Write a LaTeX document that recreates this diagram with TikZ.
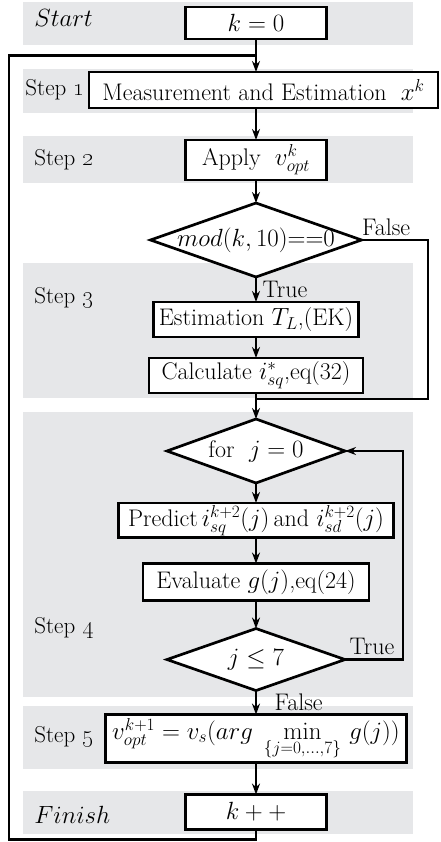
\documentclass[tikz,border=0pt]{standalone}
\usepackage{tikz}
\usetikzlibrary{positioning,shapes,arrows.meta,calc}
\pgfdeclarelayer{background}
\pgfsetlayers{background,main}
\definecolor{bandgray}{HTML}{E6E7E9}

\begin{document}
\begin{tikzpicture}[x=1pt,y=-1pt,line width=2.7pt,>={Stealth[length=11pt,width=8pt]},
    every node/.style={font=\fontsize{24}{28}\selectfont},
    box/.style={draw,rectangle,fill=white,inner sep=2pt,outer sep=0pt},
    decision/.style={draw,diamond,fill=white,inner sep=0pt,outer sep=0pt},
    steplabel/.style={anchor=west,inner sep=0pt,font=\fontsize{23}{27}\selectfont}]
            \useasboundingbox (0,0) rectangle (440,842);
            \node[box, minimum width=141pt, minimum height=32pt](kzero) at (256,23){$k=0$};
            \node[box, minimum width=349pt, minimum height=36pt, below=33pt of kzero, xshift=7.5pt](measure){Measurement and Estimation $\;x^k$};
            \draw[->](kzero.south)--(kzero.south |- measure.north);
            \node[box, minimum width=141pt, minimum height=40pt, below=32pt of measure, xshift=-7.5pt](apply){Apply $\;v_{opt}^{k}$};
            \draw[->](apply.north |- measure.south)--(apply.north);
            \node[decision, minimum width=211pt, minimum height=74pt, below=23pt of apply](modcheck){\makebox[0pt]{$mod(k,10){=}{=}0$}};
            \draw[->](apply.south)--(modcheck.north);
            \node[box, minimum width=205pt, minimum height=35pt, below=25pt of modcheck](estim){Estimation $T_L$,(EK)};
            \draw[->](modcheck.south)--(estim.north) node [right, midway, xshift=2pt]{True};
            \node[box, minimum width=214pt, minimum height=35pt, below=21pt of estim](calc){Calculate $i_{sq}^{*}$,eq(32)};
            \draw[->](estim.south)--(calc.north);
            \node[decision, minimum width=178pt, minimum height=64pt, below=26pt of calc](forloop){\makebox[0pt]{for\ \ $j=0$}};
            \coordinate (merge) at ($(calc.south)+(0,6)$);
            \coordinate (falsex) at (428,0);
            \draw(modcheck.east) node [above right, xshift=-4pt]{False} -| (falsex |- merge) -- (merge);
            \draw(calc.south)--(merge);
            \draw[->](merge)--(forloop.north);
            \node[box, minimum width=275pt, minimum height=34pt, below=20pt of forloop](predict){Predict\,$i_{sq}^{k+2}(j)$\,and $i_{sd}^{k+2}(j)$};
            \draw[->](forloop.south)--(predict.north);
            \node[box, minimum width=226pt, minimum height=37pt, below=26pt of predict](evaluate){Evaluate $g(j)$,eq(24)};
            \draw[->](predict.south)--(evaluate.north);
            \node[decision, minimum width=178pt, minimum height=62pt, below=28pt of evaluate](jcheck){\makebox[0pt]{$j\leq 7$}};
            \draw[->](evaluate.south)--(jcheck.north);
            \coordinate (truex) at (403,0);
            \draw[->](jcheck.east) node [above right]{True} -| (truex |- forloop.east) -- (forloop.east);
            \node[box, minimum width=301pt, minimum height=48pt, below=24pt of jcheck](vopt){$v_{opt}^{k+1}=v_s(arg\;\min\limits_{\{j=0,\ldots,7\}}\,g(j))$};
            \draw[->](jcheck.south)--(vopt.north) node [right, midway, xshift=14pt]{False};
            \node[box, minimum width=141pt, minimum height=35pt, below=32pt of vopt](kinc){$k++$};
            \draw[->](vopt.south)--(kinc.north);
            % loop back to step 1
            \coordinate (join) at ($(kzero.south)!0.5!(kzero.south |- measure.north)$);
            \coordinate (loopx) at (9,0);
            \draw(kinc.south) -- ++(0,10) -| (loopx |- join) -- (join);

            \node[steplabel, font=\fontsize{24}{28}\selectfont](startlabel) at (33,18){$Start$};
            \node[steplabel, anchor=east, left=3pt of measure](step1label){Step \oldstylenums{1}};
            \node[steplabel](step2label) at (33,160){Step \oldstylenums{2}};
            \node[steplabel](step3label) at (33,298){Step \oldstylenums{3}};
            \node[steplabel](step4label) at (33,628){Step \oldstylenums{4}};
            \node[steplabel](step5label) at (33,737){Step \oldstylenums{5}};
            \node[steplabel, font=\fontsize{24}{28}\selectfont](finishlabel) at (33,815){$Finish$};

            \begin{pgfonlayer}{background}
            \fill[bandgray] (23,2) rectangle (413,45);
            \fill[bandgray] (23,69) rectangle (413,113);
            \fill[bandgray] (23,136) rectangle (413,183);
            \fill[bandgray] (23,263) rectangle (413,398);
            \fill[bandgray] (23,412) rectangle (413,697);
            \fill[bandgray] (23,706) rectangle (413,769);
            \fill[bandgray] (23,791) rectangle (413,834);
            \end{pgfonlayer}
        \end{tikzpicture}
\end{document}
